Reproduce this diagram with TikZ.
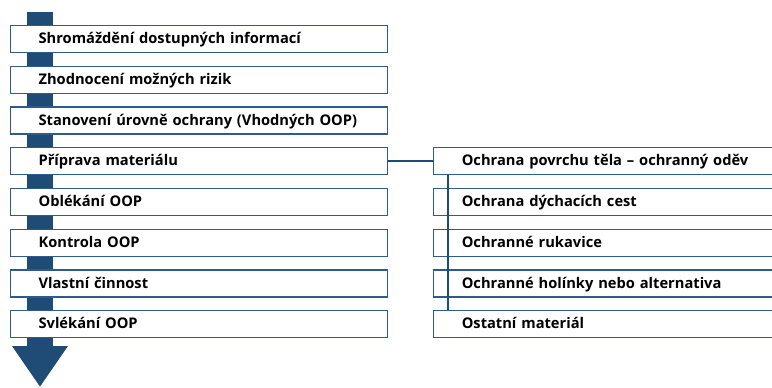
\documentclass[tikz,border=0pt]{standalone}
\usepackage{fontspec}
\setmainfont{Open Sans}
\usepackage{tikz}
\usetikzlibrary{positioning, arrows.meta, backgrounds}
\definecolor{oopblue}{HTML}{1F4B77}
\definecolor{oopline}{HTML}{2F5B89}
\tikzset{
  stepbox/.style={rectangle, draw=oopline, line width=0.9pt, fill=white, minimum height=20.25pt, inner xsep=0pt, inner ysep=0pt, text width=282.75pt, text height=8.8pt, text depth=2pt, align=left, execute at begin node={\hspace*{21pt}}, font=\fontsize{11}{12}\selectfont\bfseries},
  itembox/.style={stepbox, text width=254.25pt},
  link/.style={draw=oopblue, line width=1.6pt},
  flow/.style={draw=oopblue, line width=19.5pt, -{Triangle[width=39.75pt, length=30.75pt]}}
}
\begin{document}
\begin{tikzpicture}[node distance=9.4pt and 33.75pt]
            \useasboundingbox (0,0) rectangle (579pt,-290.25pt);

            % --- Postup ---
            \node (shrom) [stepbox, anchor=north west] at (7.5pt,-18.75pt) {Shromáždění dostupných informací};
            \node (zhod) [stepbox, below=of shrom] {Zhodnocení možných rizik};
            \node (stan) [stepbox, below=of zhod] {Stanovení úrovně ochrany (Vhodných OOP)};
            \node (prip) [stepbox, below=of stan] {Příprava materiálu};
            \node (obl) [stepbox, below=of prip] {Oblékání OOP};
            \node (kontr) [stepbox, below=of obl] {Kontrola OOP};
            \node (cinn) [stepbox, below=of kontr] {Vlastní činnost};
            \node (svl) [stepbox, below=of cinn] {Svlékání OOP};

            % --- Materiál ---
            \node (odev) [itembox, right=of prip] {Ochrana povrchu těla – ochranný oděv};
            \node (dych) [itembox, below=of odev] {Ochrana dýchacích cest};
            \node (ruk) [itembox, below=of dych] {Ochranné rukavice};
            \node (hol) [itembox, below=of ruk] {Ochranné holínky nebo alternativa};
            \node (ost) [itembox, below=of hol] {Ostatní materiál};

            % --- Šipka postupu ---
            \coordinate (zacatek) at ([xshift=22.5pt, yshift=9.75pt]shrom.north west);
            \coordinate (konec) at (zacatek |- 0,-290.25pt);
            \begin{scope}[on background layer]
              \draw [flow] (zacatek) -- (konec);
            \end{scope}

            % --- Spojení ---
            \draw [link] (prip.east) -- (odev.west);
            \draw [link] ([xshift=11.25pt]odev.south west) -- ([xshift=11.25pt]ost.north west);

        \end{tikzpicture}
\end{document}
